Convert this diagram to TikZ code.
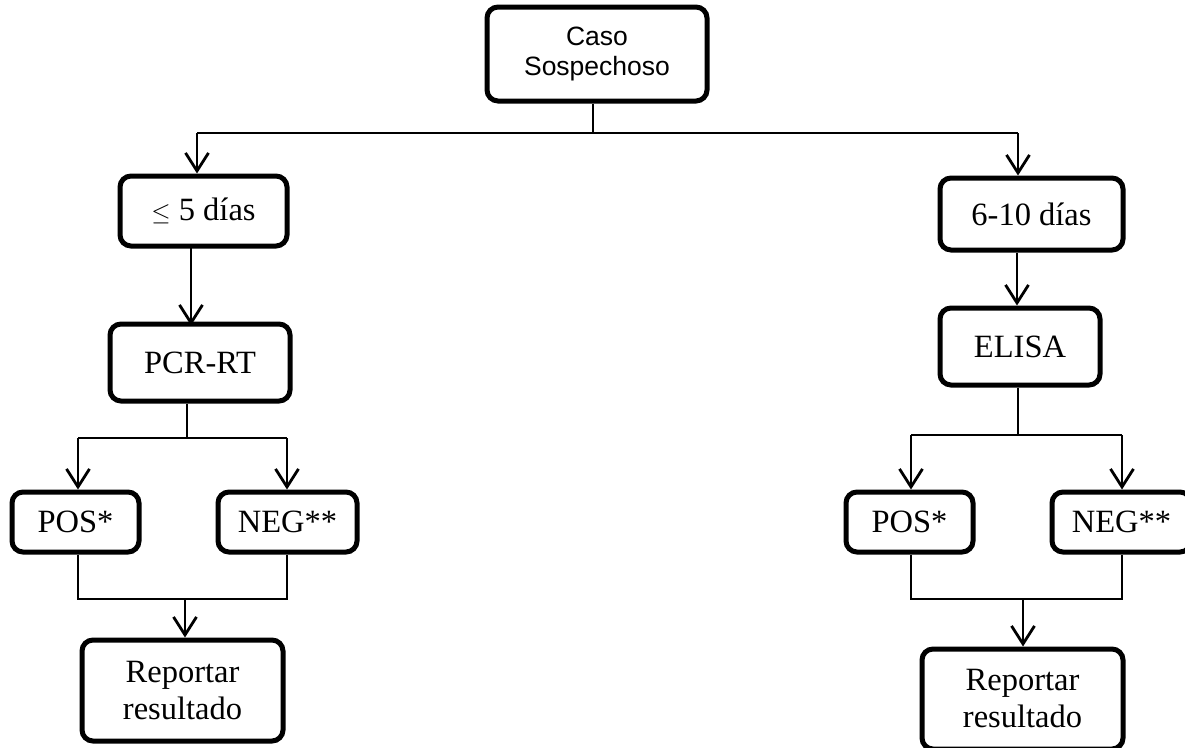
\documentclass[tikz,border=0pt]{standalone}
\usepackage{fontspec}
\setmainfont{Liberation Serif}
\newfontfamily\arialfont{Liberation Sans}
\usetikzlibrary{arrows.meta}
\begin{document}
\begin{tikzpicture}[x=1pt,y=-1pt,
  box/.style={draw, line width=5pt, rounded corners=11pt, align=center, inner sep=0pt,
    font=\fontsize{32.5}{37}\selectfont},
  conn/.style={line width=2.8pt},
  arr/.style={line width=2.8pt, -{Straight Barb[length=18pt,width=23pt]}}]
\useasboundingbox (0,0) rectangle (1185,747);
\clip (0,0) rectangle (1185,747);
% nodes
\node[box, minimum width=220pt, minimum height=94pt, font=\arialfont\fontsize{26.5}{30}\selectfont] (caso) at (597,54) {Caso\\Sospechoso};
\node[box, minimum width=167pt, minimum height=70pt] (d5) at (203.5,211) {$\leq$ 5 días};
\node[box, minimum width=180pt, minimum height=77pt] (pcr) at (200,362.5) {PCR-RT};
\node[box, minimum width=127pt, minimum height=60pt] (posL) at (75.5,522) {POS*};
\node[box, minimum width=139pt, minimum height=60pt] (negL) at (287.5,522) {NEG**};
\node[box, minimum width=201pt, minimum height=101pt] (repL) at (182.5,690.5) {Reportar\\resultado};
\node[box, minimum width=183pt, minimum height=72pt] (d610) at (1031.5,214) {6-10 días};
\node[box, minimum width=160pt, minimum height=77pt] (elisa) at (1020,346.5) {ELISA};
\node[box, minimum width=127pt, minimum height=60pt] (posR) at (909.5,522) {POS*};
\node[box, minimum width=139pt, minimum height=60pt] (negR) at (1121.5,522) {NEG**};
\node[box, minimum width=201pt, minimum height=100pt] (repR) at (1022.5,699) {Reportar\\resultado};
% junction coordinates
\coordinate (j0) at (593,133);
\coordinate (xa) at (197,0);
\coordinate (xb) at (1018,0);
\coordinate (xc) at (191,0);
\coordinate (xd) at (1017,0);
\coordinate (j1) at (187,438);
\coordinate (xe) at (78,0);
\coordinate (xf) at (287,0);
\coordinate (j2) at (185,599);
\coordinate (j3) at (1018,435);
\coordinate (xg) at (911,0);
\coordinate (xh) at (1122,0);
\coordinate (j4) at (1023,599);
% top split
\draw[conn] (caso.south -| j0) -- (j0);
\draw[conn] (j0 -| xa) -- (j0 -| xb);
\draw[arr] (j0 -| xa) -- (d5.north -| xa);
\draw[arr] (j0 -| xb) -- (d610.north -| xb);
% left branch
\draw[arr] ([yshift=4pt]d5.south -| xc) -- ([yshift=-4pt]pcr.north -| xc);
\draw[conn] (pcr.south -| j1) -- (j1);
\draw[conn] (j1 -| xe) -- (j1 -| xf);
\draw[arr] (j1 -| xe) -- (posL.north -| xe);
\draw[arr] (j1 -| xf) -- (negL.north -| xf);
\draw[conn] (posL.south -| xe) -- (j2 -| xe) -- (j2 -| xf) -- (negL.south -| xf);
\draw[arr] (j2) -- (repL.north -| j2);
% right branch
\draw[arr] (d610.south -| xd) -- (elisa.north -| xd);
\draw[conn] (elisa.south -| j3) -- (j3);
\draw[conn] (j3 -| xg) -- (j3 -| xh);
\draw[arr] (j3 -| xg) -- (posR.north -| xg);
\draw[arr] (j3 -| xh) -- (negR.north -| xh);
\draw[conn] (posR.south -| xg) -- (j4 -| xg) -- (j4 -| xh) -- (negR.south -| xh);
\draw[arr] (j4) -- (repR.north -| j4);
\end{tikzpicture}
\end{document}
